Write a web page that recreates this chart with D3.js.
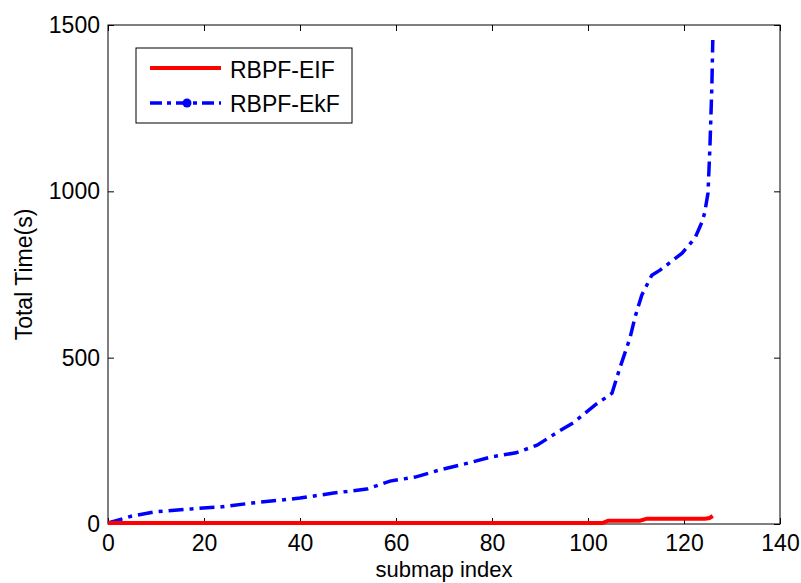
<!DOCTYPE html>
<html>
<head>
<meta charset="utf-8">
<script src="https://cdn.jsdelivr.net/npm/d3@7"></script>
<style>
  body { margin: 0; background: #fff; }
  text { font-family: "Liberation Sans", Arial, sans-serif; }
</style>
</head>
<body>
<div id="chart"></div>
<script>
// data
var eifX = [0, 103, 104.2, 110.8, 112.3, 124.4, 125.3, 126]
var eifY = [3, 3, 10, 10, 16, 16, 18, 24]

var ekfX = [0, 5, 9.5, 19.8, 23.3, 30, 40, 47, 53.9, 58.75, 64, 69, 75, 80, 85, 89.4, 93.75,
            97, 101.5, 105, 106.7, 108.75, 109.8, 111.2, 113.3, 115, 119.6, 122.3, 123.75,
            124.3, 125, 125.4, 125.8, 126]
var ekfY = [3, 24, 36, 48, 51, 63, 78, 93, 105, 129, 141, 162, 183, 202, 214, 237, 277,
            305, 358, 393, 472, 559, 622, 688, 748, 763, 814, 860, 908,
            935, 995, 1133, 1313, 1455]

var xTicks = [0, 20, 40, 60, 80, 100, 120, 140]
var yTicks = [0, 500, 1000, 1500]
var seriesNames = ["RBPF-EIF", "RBPF-EkF"]

// set the dimensions and margins of the graph
var margin = {top: 25, right: 21, bottom: 59, left: 108},
    width = 801 - margin.left - margin.right,
    height = 583 - margin.top - margin.bottom;

var svg = d3.select("#chart")
  .append("svg")
    .attr("width", 801)
    .attr("height", 583)
  .append("g")
    .attr("transform", "translate(" + margin.left + "," + margin.top + ")");

var x = d3.scaleLinear().domain([0, 140]).range([0, width]);
var y = d3.scaleLinear().domain([0, 1500]).range([height, 0]);

// axes, ticks pointing inwards like matlab
var fs = 23
var fmt = d3.format("d")
svg.append("g")
  .attr("transform", "translate(0," + height + ")")
  .call(d3.axisBottom(x).tickValues(xTicks).tickSize(-6).tickPadding(11).tickFormat(fmt));
svg.append("g")
  .call(d3.axisLeft(y).tickValues(yTicks).tickSize(-6).tickPadding(8).tickFormat(fmt));
svg.append("g")
  .call(d3.axisTop(x).tickValues(xTicks).tickSize(-6).tickFormat(""));
svg.append("g")
  .attr("transform", "translate(" + width + ",0)")
  .call(d3.axisRight(y).tickValues(yTicks).tickSize(-6).tickFormat(""));

svg.selectAll(".domain").remove();
svg.selectAll(".tick line").attr("stroke", "#000");
svg.selectAll(".tick text")
  .style("font-size", fs + "px")
  .attr("fill", "#000");

// frame
svg.append("rect")
  .attr("width", width)
  .attr("height", height)
  .attr("fill", "none")
  .attr("stroke", "#000")
  .attr("stroke-width", 1);

// lines
var lineGen = d3.line()
  .x(function(d) { return x(d[0]) })
  .y(function(d) { return y(d[1]) });

var ekf = ekfX.map(function(v, i) { return [v, ekfY[i]] });
var eif = eifX.map(function(v, i) { return [v, eifY[i]] });

svg.append("path")
  .datum(ekf)
  .attr("d", lineGen)
  .attr("fill", "none")
  .attr("stroke", "#0000ff")
  .attr("stroke-width", 3.5)
  .attr("stroke-dasharray", "15,6,4,6");

svg.append("path")
  .datum(eif)
  .attr("d", lineGen)
  .attr("fill", "none")
  .attr("stroke", "#ff0000")
  .attr("stroke-width", 4);

// axis labels
svg.append("text")
  .attr("x", width / 2)
  .attr("y", height + 53)
  .attr("text-anchor", "middle")
  .style("font-size", "22px")
  .text("submap index");

svg.append("text")
  .attr("transform", "translate(" + (-76) + "," + (height / 2) + ") rotate(-90)")
  .attr("text-anchor", "middle")
  .style("font-size", fs + "px")
  .text("Total Time(s)");

// legend
var leg = svg.append("g").attr("transform", "translate(28,23)");
leg.append("rect")
  .attr("width", 216)
  .attr("height", 75)
  .attr("fill", "#fff")
  .attr("stroke", "#000");

leg.append("line")
  .attr("x1", 14).attr("x2", 85).attr("y1", 20).attr("y2", 20)
  .attr("stroke", "#ff0000").attr("stroke-width", 4);
leg.append("line")
  .attr("x1", 14).attr("x2", 85).attr("y1", 55).attr("y2", 55)
  .attr("stroke", "#0000ff").attr("stroke-width", 3.5)
  .attr("stroke-dasharray", "12,5,4,5");
leg.append("circle")
  .attr("cx", 51).attr("cy", 55).attr("r", 4.5)
  .attr("fill", "#0000ff");

leg.selectAll("text.lab")
  .data(seriesNames)
  .enter()
  .append("text")
    .attr("class", "lab")
    .attr("x", 94)
    .attr("y", function(d, i) { return 29.5 + i * 34 })
    .style("font-size", fs + "px")
    .text(function(d) { return d });
</script>
</body>
</html>
